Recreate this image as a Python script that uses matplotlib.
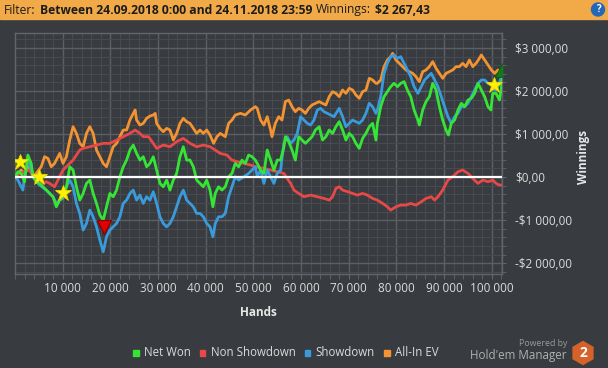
import matplotlib
matplotlib.use('Agg')
import matplotlib.pyplot as plt
from matplotlib.ticker import MultipleLocator, FixedLocator
from matplotlib.patches import Rectangle, RegularPolygon, Circle
from matplotlib.transforms import IdentityTransform
import numpy as np

plt.rcParams['font.family'] = ['Open Sans', 'DejaVu Sans']

# hands in thousands, winnings in $
net_hands = [0, 0.6, 1.3, 2.0, 2.7, 3.4, 3.76, 4.46, 5.16, 5.86,
             6.56, 7.27, 7.97, 8.67, 9.37, 10.07, 10.78, 11.48, 12.18, 12.88,
             13.58, 14.29, 14.99, 15.69, 16.39, 17.09, 17.8, 18.5, 19.2, 19.9,
             20.6, 21.3, 22.0, 22.7, 23.4, 24.1, 24.8, 25.5, 26.2, 26.9,
             27.6, 28.3, 29.0, 29.7, 30.4, 31.1, 31.8, 32.5, 33.2, 33.9,
             34.6, 35.3, 36.0, 36.7, 37.4, 38.1, 38.8, 39.5, 40.2, 40.9,
             41.5, 42.0, 42.7, 43.4, 44.1, 44.8, 45.5, 46.2, 46.9, 47.6,
             48.3, 49.0, 49.7, 50.4, 50.8, 51.5, 52.2, 52.9, 53.6, 54.3,
             55.0, 55.7, 56.4, 56.7, 57.4, 58.1, 58.8, 59.5, 60.2, 60.9,
             61.6, 62.3, 63.0, 63.8, 64.5, 65.2, 65.9, 66.6, 67.3, 68.0,
             68.7, 69.4, 70.1, 70.8, 71.5, 72.2, 72.9, 73.6, 74.3, 75.0,
             75.7, 76.0, 76.7, 77.4, 78.1, 78.8, 79.5, 80.2, 80.9, 81.6,
             82.3, 83.0, 83.7, 84.5, 84.8, 85.5, 86.2, 86.9, 87.6, 88.3,
             89.0, 89.7, 90.4, 90.9, 91.5, 92.2, 92.9, 93.6, 94.3, 95.0,
             95.7, 96.4, 97.1, 97.8, 98.5, 99.2, 99.8, 100.2, 100.9, 101.6,
             102.0, 102.2]
net_won = [0, 124, 85, -109, 512, 318, 8, -109, -147, -225,
           -302, -380, -457, -690, -535, -457, -225, 240, 163, -225,
           -535, -380, -147, -70, -380, -612, -884, -1000, -690, -380,
           -457, -302, 8, 240, 395, 628, 744, 550, 395, 473,
           240, 318, 473, 163, -147, -225, -70, -302, -70, 85,
           473, 705, 395, 395, 240, -70, -147, -225, -70, -302,
           -690, -380, -225, -302, -225, 8, 85, 318, 240, 395,
           318, 512, 473, 395, 318, 163, 85, 628, 395, 163,
           395, 395, 705, 938, 822, 628, 395, 938, 860, 783,
           860, 938, 1093, 1170, 860, 938, 1093, 1015, 1170, 1287,
           1093, 860, 1015, 938, 783, 667, 899, 1015, 1170, 1248,
           860, 1248, 1635, 1868, 1984, 2100, 2178, 2100, 2178, 2217,
           2023, 1868, 1558, 1325, 1209, 1558, 1752, 1868, 2178, 2023,
           1635, 1325, 1093, 977, 1248, 1325, 1558, 1713, 1635, 1790,
           1829, 1945, 2178, 2023, 1868, 1635, 1558, 1945, 1945, 1790,
           2062, 2267]

sd_hands = [0, 0.6, 1.3, 1.65, 2.0, 2.7, 3.4, 4.46, 5.16, 6.56,
            7.97, 8.67, 9.37, 10.07, 10.78, 11.48, 12.18, 12.88, 13.58, 14.29,
            14.99, 15.69, 16.39, 17.09, 17.8, 18.5, 19.2, 19.9, 20.6, 21.3,
            22.0, 22.7, 23.4, 24.1, 24.8, 25.5, 26.2, 26.9, 27.6, 28.3,
            29.0, 29.7, 30.4, 31.1, 31.8, 32.5, 33.2, 33.9, 34.6, 35.3,
            36.0, 36.7, 37.4, 38.1, 38.8, 39.5, 40.2, 40.9, 41.5, 42.0,
            42.7, 43.4, 44.1, 44.8, 45.5, 46.2, 46.9, 48.0, 49.0, 49.7,
            50.4, 50.8, 51.5, 52.2, 52.9, 53.6, 54.3, 55.0, 55.7, 56.4,
            57.1, 57.8, 58.5, 59.2, 59.9, 60.6, 61.3, 62.0, 62.7, 63.4,
            64.1, 64.8, 65.5, 66.2, 66.9, 68.0, 68.7, 69.4, 70.1, 70.8,
            71.5, 72.2, 72.9, 73.6, 74.3, 75.0, 75.7, 76.0, 76.7, 77.4,
            78.1, 78.8, 79.5, 80.2, 80.9, 81.6, 82.3, 83.0, 83.7, 84.5,
            85.2, 85.9, 86.6, 87.3, 88.0, 88.7, 89.4, 90.1, 90.8, 91.5,
            92.2, 92.9, 93.6, 94.3, 95.0, 95.7, 96.4, 97.1, 97.8, 98.5,
            99.2, 99.9, 100.6, 101.3, 102.0, 102.2]
showdown = [0, -70, -225, -302, 8, 395, 163, -109, -186, -302,
            -457, -612, -535, -496, -225, -70, -225, -612, -845, -1232,
            -1077, -767, -922, -1155, -1465, -1736, -1387, -1232, -1155, -1077,
            -922, -612, -535, -380, -302, -535, -419, -612, -457, -535,
            -341, -612, -922, -1077, -1155, -1077, -922, -690, -457, -302,
            -535, -612, -690, -845, -845, -922, -1077, -1155, -1387, -1077,
            -922, -922, -845, -457, -225, 8, -70, 8, 85, 163,
            240, 8, 163, -147, 163, 8, -147, 85, 163, 783,
            938, 783, 860, 1015, 1403, 1325, 1248, 1209, 1325, 1558,
            1597, 1519, 1480, 1442, 1403, 1597, 1403, 1170, 1248, 1325,
            1287, 1248, 1325, 1480, 1713, 1635, 1480, 1558, 1868, 2410,
            2643, 2798, 2837, 2759, 2798, 2643, 2488, 2333, 2100, 1945,
            2100, 2255, 2333, 2410, 2255, 2100, 1868, 1635, 1403, 1248,
            1403, 1480, 1635, 1635, 1713, 1868, 2023, 2178, 2255, 2255,
            2178, 2139, 2023, 2100, 2333, 2400]

ev_hands = [0, 0.6, 1.3, 2.0, 2.7, 3.4, 4.1, 4.46, 5.5, 6.2,
            6.9, 7.6, 8.3, 9.0, 9.37, 10.07, 10.78, 11.48, 12.18, 12.88,
            13.58, 14.29, 14.99, 15.69, 16.39, 17.09, 17.8, 18.5, 19.2, 19.9,
            20.6, 21.3, 22.0, 22.7, 23.4, 24.1, 24.8, 25.2, 25.5, 26.2,
            26.9, 27.6, 28.3, 29.0, 29.4, 29.7, 30.4, 31.1, 31.8, 32.5,
            33.2, 33.9, 34.6, 35.3, 36.0, 36.7, 37.4, 38.1, 38.8, 39.5,
            40.2, 40.9, 41.65, 42.35, 43.05, 44.1, 44.8, 45.5, 46.2, 47.3,
            48.3, 49.4, 50.4, 50.8, 51.5, 52.2, 52.9, 53.6, 53.9, 54.6,
            55.3, 56.0, 56.7, 57.4, 58.1, 58.8, 59.5, 60.2, 60.9, 61.6,
            62.3, 63.0, 63.8, 64.5, 65.2, 65.9, 66.6, 67.3, 68.0, 68.7,
            69.4, 70.1, 70.8, 71.5, 72.2, 72.9, 73.6, 74.3, 75.0, 75.7,
            76.0, 76.7, 77.4, 78.1, 78.8, 79.2, 79.9, 80.6, 81.3, 82.0,
            82.7, 83.4, 84.1, 84.8, 85.5, 86.2, 86.9, 87.6, 88.3, 89.0,
            89.7, 90.4, 91.1, 91.8, 92.5, 93.2, 93.9, 94.6, 95.3, 96.0,
            96.7, 97.4, 97.8, 98.5, 99.2, 99.9, 100.6, 101.3, 102.0, 102.2]
allin_ev = [0, 85, 163, 85, 240, 163, 8, 85, 240, 473,
            434, 240, 318, 473, 550, 318, 473, 860, 1170, 1015,
            783, 705, 1015, 1170, 1015, 628, 473, 318, 240, 473,
            705, 783, 938, 1093, 1093, 1325, 1480, 1558, 1325, 1209,
            1248, 1364, 1418, 1442, 1480, 1248, 1132, 1054, 1132, 1093,
            860, 1015, 1248, 1364, 1287, 1248, 1132, 1015, 1093, 1015,
            1093, 977, 783, 938, 1015, 938, 1248, 1325, 1442, 1480,
            1442, 1558, 1635, 1597, 1325, 1209, 1403, 1093, 938, 1248,
            1403, 1325, 1752, 1790, 1635, 1519, 1597, 1558, 1480, 1597,
            1674, 1713, 1752, 1713, 1674, 1868, 1984, 1945, 1868, 2023,
            1945, 2062, 2023, 1907, 1829, 1984, 2023, 2294, 2255, 2178,
            2178, 2255, 2565, 2720, 2798, 2875, 2720, 2643, 2565, 2488,
            2449, 2410, 2333, 2217, 2449, 2488, 2565, 2682, 2527, 2410,
            2294, 2410, 2449, 2488, 2565, 2565, 2643, 2565, 2720, 2565,
            2643, 2759, 2837, 2720, 2604, 2488, 2410, 2488, 2333, 2217]

nsd_hands = [0, 0.95, 2.0, 3.05, 3.76, 4.46, 5.16, 5.86, 6.56, 7.27,
             8.3, 9.0, 10.07, 11.1, 12.18, 12.88, 13.58, 14.29, 15.69, 17.09,
             18.5, 19.9, 21.3, 22.7, 24.1, 25.2, 26.2, 26.9, 28.0, 29.0,
             29.7, 31.1, 32.5, 33.9, 35.3, 36.7, 38.1, 39.5, 40.9, 42.0,
             43.05, 44.45, 45.5, 46.6, 48.0, 49.4, 50.4, 52.2, 53.6, 55.0,
             56.4, 57.1, 57.8, 58.5, 59.5, 60.6, 62.0, 63.4, 64.8, 65.9,
             66.6, 67.3, 68.0, 68.7, 69.8, 70.8, 71.8, 72.9, 73.9, 75.0,
             76.0, 77.1, 78.1, 78.8, 79.9, 80.9, 82.0, 83.0, 84.1, 85.2,
             86.2, 87.3, 88.0, 88.7, 89.7, 90.8, 91.8, 92.9, 93.9, 95.0,
             96.0, 97.1, 98.1, 99.2, 100.2, 100.9, 101.6, 102.2]
non_showdown = [0, 85, 124, 163, 8, -70, -70, -147, -109, -147,
                -225, -70, 163, 279, 395, 512, 628, 667, 705, 744,
                783, 783, 860, 938, 1015, 1093, 1015, 938, 938, 783,
                667, 744, 705, 822, 899, 783, 705, 744, 705, 628,
                550, 512, 395, 357, 318, 279, 240, 202, 163, 124,
                85, -31, -147, -302, -380, -457, -419, -457, -496, -535,
                -457, -264, -225, -302, -341, -380, -419, -380, -419, -496,
                -535, -612, -690, -767, -690, -651, -651, -612, -651, -574,
                -496, -457, -535, -457, -302, -70, 8, 124, 163, 85,
                -31, -147, -70, -109, -70, -147, -186, -186]

# event markers (hands in thousands, $)
star_hands = [0.95, 5.0, 10.07, 100.5]
star_vals = [356, 8, -364, 2139]
low_hand, low_val = 18.7, -1170
end_hand, end_val = 102.1, 2488

y_ticks = [-2000, -1000, 0, 1000, 2000, 3000]
y_labels = ['-$2 000,00', '-$1 000,00', '$0,00', '$1 000,00', '$2 000,00', '$3 000,00']
x_ticks = [10000, 20000, 30000, 40000, 50000, 60000, 70000, 80000, 90000, 100000]
x_labels = ['10 000', '20 000', '30 000', '40 000', '50 000', '60 000', '70 000',
            '80 000', '90 000', '100 000']

BG = '#383b3f'
TXT = '#dcdcdc'
C_NET, C_NSD, C_SD, C_EV = '#35e535', '#e84848', '#3a9bdc', '#f39331'

W, H = 608, 368
fig = plt.figure(figsize=(W / 100, H / 100), dpi=100, facecolor=BG)
ax = fig.add_axes([15 / W, 1 - 273.5 / H, 487.3 / W, 240.2 / H])
ax.set_facecolor(BG)

k = 1000
ax.plot(np.array(ev_hands) * k, allin_ev, color=C_EV, lw=2.0, zorder=3)
ax.plot(np.array(nsd_hands) * k, non_showdown, color=C_NSD, lw=2.0, zorder=3)
ax.plot(np.array(sd_hands) * k, showdown, color=C_SD, lw=2.0, zorder=4)
ax.plot(np.array(net_hands) * k, net_won, color=C_NET, lw=2.0, zorder=5)
ax.axhline(0, color='white', lw=1.6, zorder=6)

ax.plot(np.array(star_hands) * k, star_vals, ls='none', marker='*', ms=12,
        mfc='#fff200', mec='#e8d800', mew=0.6, zorder=8)
ax.plot([low_hand * k], [low_val], ls='none', marker='v', ms=10,
        mfc='#e00000', mec='#8a0000', mew=0.8, zorder=8)
ax.plot([end_hand * k], [end_val], ls='none', marker='^', ms=10,
        mfc='#0b7d12', mec='#0b5d10', mew=0.6, zorder=8)

ax.set_xlim(0, 102200)
ax.set_ylim(-2240, 3340)

ax.xaxis.set_major_locator(FixedLocator(x_ticks))
ax.set_xticklabels(x_labels)
ax.xaxis.set_minor_locator(MultipleLocator(2000))
ax.yaxis.tick_right()
ax.yaxis.set_major_locator(FixedLocator(y_ticks))
ax.set_yticklabels(y_labels)
ax.yaxis.set_minor_locator(MultipleLocator(200))

ax.grid(which='major', color='#5c6064', lw=1.0, zorder=0)
ax.grid(which='minor', color='#474b4f', lw=0.8, zorder=0)
ax.set_axisbelow(True)
for s in ax.spines.values():
    s.set_color('#62666a')
    s.set_linewidth(1.0)

ax.tick_params(axis='both', which='both', colors='#62666a', labelcolor=TXT,
               labelsize=8.5, direction='out')
ax.tick_params(axis='x', which='both', length=3.6, pad=2.5)
ax.tick_params(axis='y', which='both', length=3, pad=6)

fig.text(258.5 / W, 1 - 313 / H, 'Hands', color='#e8e8e8', fontsize=8.5,
         weight='bold', ha='center', va='center')
fig.text(583 / W, 1 - 157 / H, 'Winnings', color='#e8e8e8', fontsize=8.5,
         weight='bold', ha='center', va='center', rotation=90)

# header bar
fig.patches.append(Rectangle((0, 1 - 19 / H), 1, 19 / H, transform=fig.transFigure,
                             color='#f2aa48', zorder=0))
renderer = fig.canvas.get_renderer()
hx = 4
for part, wt in [('Filter:', 'normal'),
                 ('Between 24.09.2018 0:00 and 24.11.2018 23:59', 'bold'),
                 ('Winnings:', 'normal'), ('$2 267,43', 'bold')]:
    t = fig.text(hx / W, 1 - 10 / H, part, fontsize=8.7, weight=wt,
                 color='#1c1c1c', va='center', ha='left')
    hx = t.get_window_extent(renderer).x1 + 4
fig.patches.append(Circle((598, H - 9.5), 6.5, transform=IdentityTransform(),
                          color='#2368b8', zorder=2))
fig.text(598 / W, 1 - 9.8 / H, '?', color='white', fontsize=7, weight='bold',
         ha='center', va='center', zorder=3)

# legend
names = ['Net Won', 'Non Showdown', 'Showdown', 'All-In EV']
colors = [C_NET, C_NSD, C_SD, C_EV]
lx = 133
for name, c in zip(names, colors):
    fig.patches.append(Rectangle((lx, H - 355.5), 5.5, 5.5, transform=IdentityTransform(),
                                 color=c))
    t = fig.text((lx + 11) / W, 1 - 353 / H, name, color=TXT, fontsize=8.3,
                 va='center', ha='left')
    lx = t.get_window_extent(renderer).x1 + 9

# branding
fig.text(567 / W, 1 - 343 / H, 'Powered by', color='#9a9a9a', fontsize=6.3,
         ha='right', va='center')
fig.text(567 / W, 1 - 355 / H, "Hold'em Manager", color='#b0b0b0', fontsize=8.4,
         ha='right', va='center')
fig.patches.append(RegularPolygon((583, H - 353), 6, radius=11.5, orientation=0,
                                  transform=IdentityTransform(), color='#d4622a'))
fig.text(583 / W, 1 - 353 / H, '2', color='white', fontsize=10, weight='bold',
         ha='center', va='center')

fig.savefig('out.png', dpi=100, facecolor=BG)
